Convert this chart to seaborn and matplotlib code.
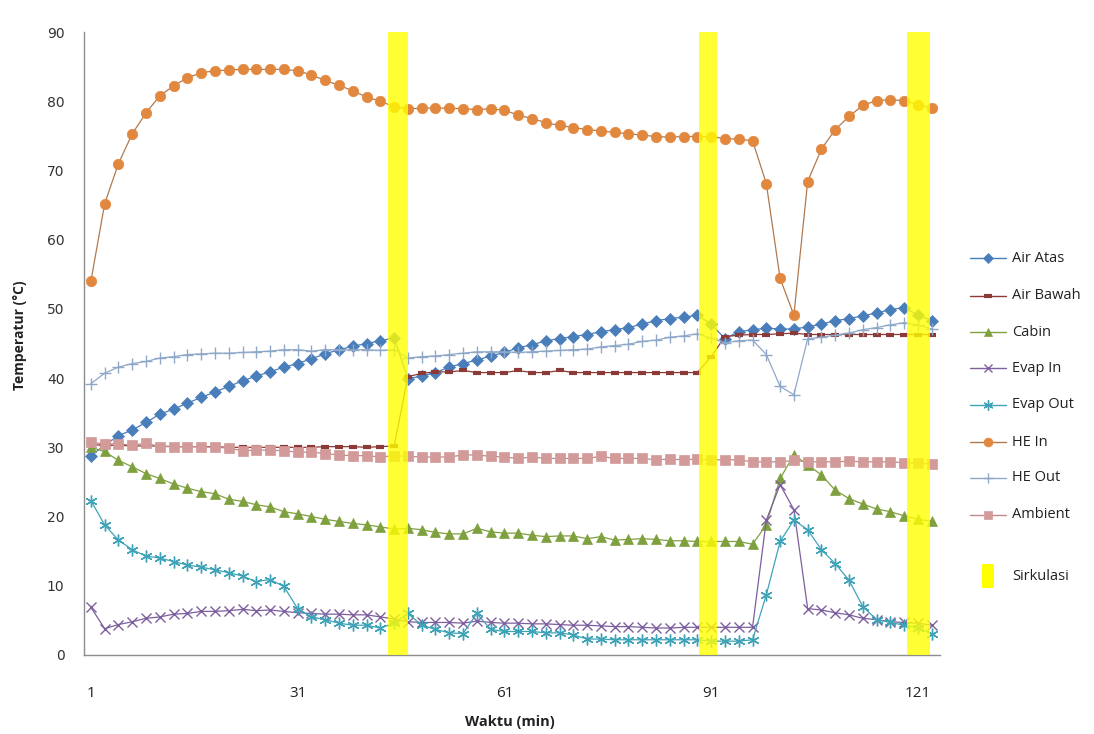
import matplotlib
matplotlib.use("Agg")
import matplotlib.pyplot as plt
import seaborn as sns
from matplotlib.lines import Line2D
from matplotlib.patches import Rectangle

# ---------------- data ----------------
minutes = [1, 3, 5, 7, 9, 11, 13, 15, 17, 19, 21, 23, 25, 27, 29, 31, 33, 35, 37, 39, 41,
           43, 45, 47, 49, 51, 53, 55, 57, 59, 61, 63, 65, 67, 69, 71, 73, 75, 77, 79, 81,
           83, 85, 87, 89, 91, 93, 95, 97, 99, 101, 103, 105, 107, 109, 111, 113, 115,
           117, 119, 121, 123]

air_atas = [28.8, 30.3, 31.7, 32.5, 33.6, 34.8, 35.5, 36.4, 37.2, 38.0, 38.8, 39.6, 40.3,
            40.9, 41.6, 42.1, 42.8, 43.5, 44.1, 44.6, 45.0, 45.4, 45.8,
            39.9, 40.3, 40.8, 41.6, 42.1, 42.6, 43.2, 43.7, 44.4, 44.8, 45.4, 45.7, 46.0,
            46.3, 46.7, 47.0, 47.3, 47.8, 48.3, 48.6, 48.8, 49.1,
            47.8, 45.7, 46.7, 47.0, 47.2, 47.1, 47.1, 47.4, 47.8, 48.3, 48.6, 49.0, 49.4,
            49.9, 50.2, 49.1, 48.3]

air_bawah = [30.4, 30.3, 30.3, 30.2, 30.2, 30.2, 30.1, 30.1, 30.1, 30.1, 30.0, 30.0, 30.0,
             30.0, 30.0, 30.0, 30.0, 30.1, 30.1, 30.1, 30.0, 30.1, 30.2,
             40.2, 40.7, 40.9, 40.9, 41.1, 40.8, 40.8, 40.8, 41.1, 40.8, 40.8, 41.1, 40.8,
             40.8, 40.8, 40.8, 40.8, 40.8, 40.8, 40.8, 40.8, 40.8,
             43.1, 46.0, 46.2, 46.3, 46.3, 46.4, 46.5, 46.3, 46.3, 46.3, 46.3, 46.3, 46.3,
             46.3, 46.3, 46.3, 46.3]

cabin = [30.0, 29.4, 28.1, 27.2, 26.2, 25.5, 24.7, 24.1, 23.6, 23.3, 22.5, 22.2, 21.7,
         21.4, 20.7, 20.4, 20.0, 19.6, 19.3, 19.0, 18.8, 18.5, 18.2,
         18.3, 18.1, 17.7, 17.5, 17.5, 18.3, 17.8, 17.6, 17.6, 17.3, 17.1, 17.2, 17.2,
         16.8, 17.1, 16.6, 16.7, 16.8, 16.7, 16.5, 16.5, 16.4,
         16.4, 16.4, 16.4, 16.0, 18.8, 25.5, 28.9, 27.5, 26.0, 23.8, 22.6, 21.8, 21.1,
         20.7, 20.1, 19.6, 19.3]

evap_in = [6.9, 3.8, 4.4, 4.8, 5.3, 5.5, 5.9, 6.0, 6.3, 6.3, 6.4, 6.6, 6.4, 6.5, 6.3,
           6.1, 6.0, 5.9, 5.9, 5.8, 5.8, 5.5, 5.2,
           4.8, 4.7, 4.7, 4.7, 4.6, 4.9, 4.7, 4.6, 4.6, 4.5, 4.5, 4.4, 4.3, 4.3, 4.2,
           4.1, 4.1, 4.0, 3.9, 3.9, 4.0, 4.0,
           4.0, 4.0, 4.0, 4.0, 19.5, 24.6, 21.0, 6.7, 6.5, 6.1, 5.8, 5.3, 5.1, 4.8, 4.7,
           4.6, 4.3]

evap_out = [22.3, 18.8, 16.6, 15.2, 14.3, 14.0, 13.5, 13.0, 12.7, 12.3, 11.9, 11.4, 10.6,
            10.9, 9.9, 6.7, 5.5, 5.1, 4.6, 4.3, 4.3, 3.9, 4.6,
            6.0, 4.3, 3.7, 3.2, 3.1, 6.0, 3.7, 3.4, 3.4, 3.4, 3.2, 3.2, 2.9, 2.3, 2.3,
            2.2, 2.2, 2.2, 2.2, 2.2, 2.2, 2.2,
            2.0, 2.0, 2.0, 2.2, 8.7, 16.4, 19.5, 18.1, 15.2, 13.2, 10.8, 7.0, 5.1, 4.7,
            4.3, 3.9, 3.1]

he_in = [54.0, 65.2, 71.0, 75.3, 78.3, 80.8, 82.2, 83.4, 84.1, 84.4, 84.5, 84.6, 84.6,
         84.6, 84.6, 84.4, 83.8, 83.0, 82.3, 81.5, 80.6, 80.0, 79.2,
         78.9, 79.0, 79.0, 79.0, 78.9, 78.8, 78.9, 78.7, 78.0, 77.5, 76.9, 76.5, 76.2,
         75.9, 75.7, 75.5, 75.3, 75.1, 74.9, 74.8, 74.9, 74.9,
         74.9, 74.6, 74.5, 74.3, 68.1, 54.4, 49.1, 68.4, 73.1, 75.9, 77.8, 79.4, 80.1,
         80.2, 80.1, 79.5, 79.0]

he_out = [39.2, 40.7, 41.6, 42.1, 42.4, 42.9, 43.1, 43.4, 43.5, 43.6, 43.6, 43.7, 43.8,
          43.9, 44.1, 44.1, 43.9, 44.1, 44.1, 44.1, 44.1, 44.0, 44.1,
          42.9, 43.1, 43.2, 43.4, 43.6, 43.8, 43.8, 43.8, 43.7, 43.8, 43.9, 44.0, 44.1,
          44.2, 44.5, 44.7, 44.9, 45.3, 45.5, 45.9, 46.1, 46.4,
          45.8, 45.1, 45.4, 45.5, 43.4, 38.8, 37.6, 45.7, 45.9, 46.2, 46.5, 47.0, 47.3,
          47.7, 48.0, 47.7, 47.1]

ambient = [30.7, 30.5, 30.5, 30.3, 30.6, 30.1, 30.1, 30.1, 30.1, 30.0, 29.9, 29.5, 29.6,
           29.6, 29.5, 29.3, 29.3, 29.1, 28.9, 28.8, 28.8, 28.6, 28.8,
           28.7, 28.6, 28.6, 28.6, 28.9, 28.9, 28.7, 28.6, 28.4, 28.6, 28.4, 28.4, 28.4,
           28.4, 28.7, 28.4, 28.4, 28.4, 28.2, 28.3, 28.2, 28.3,
           28.2, 28.2, 28.2, 27.9, 27.9, 27.9, 28.1, 27.9, 27.9, 27.9, 28.0, 27.9, 27.9,
           27.9, 27.8, 27.7, 27.6]

series_names = ["Air Atas", "Air Bawah", "Cabin", "Evap In", "Evap Out", "HE In", "HE Out", "Ambient"]
sirkulasi_start = [44.1, 89.2, 119.4]
sirkulasi_end = [47.0, 91.9, 122.7]
sirkulasi_label = "Sirkulasi"
x_ticks = [1, 31, 61, 91, 121]
y_ticks = [0, 10, 20, 30, 40, 50, 60, 70, 80, 90]
x_label = "Waktu (min)"
y_label = "Temperatur (°C)"

# ---------------- style ----------------
sns.set_style("white")
plt.rcParams["font.family"] = ["Open Sans", "DejaVu Sans"]

W, H = 1094, 734
fig = plt.figure(figsize=(W / 100, H / 100), dpi=100)
ax = fig.add_axes([84 / W, 1 - 655 / H, (940 - 84) / W, (655 - 32) / H])

styles = [
    dict(color="#4A7EBB", marker="D", markersize=6.5, mfc="#4A7EBB", mec="#4A7EBB", mew=0.5),
    dict(color="#8B3A38", marker="_", markersize=6, mfc="#8B3A38", mec="#8B3A38", mew=3),
    dict(color="#7FA03E", marker="^", markersize=7, mfc="#7FA03E", mec="#7FA03E", mew=0.5),
    dict(color="#7D5E9E", marker="x", markersize=7, mfc="#7D5E9E", mec="#7D5E9E", mew=1.0),
    dict(color="#3FA3B8", marker=(6, 2, 0), markersize=8.5, mfc="#3FA3B8", mec="#3FA3B8", mew=1.0),
    dict(color="#E2873E", marker="o", markersize=7.5, mfc="#E2873E", mec="#E2873E", mew=0.5),
    dict(color="#8FA8C8", marker="+", markersize=9, mfc="#8FA8C8", mec="#8FA8C8", mew=1.0),
    dict(color="#D29A99", marker="s", markersize=7, mfc="#D29A99", mec="#D29A99", mew=0.5),
]
line_colors = ["#4A7EBB", "#8B3A38", "#7FA03E", "#7D5E9E", "#3FA3B8", "#B07A50", "#8FA8C8", "#C08A89"]

all_series = [air_atas, air_bawah, cabin, evap_in, evap_out, he_in, he_out, ambient]
for i, (name, vals, st) in enumerate(zip(series_names, all_series, styles)):
    sns.lineplot(x=minutes, y=vals, ax=ax, color=line_colors[i], linewidth=0.9,
                 marker=st["marker"], markersize=st["markersize"],
                 markerfacecolor=st["mfc"], markeredgecolor=st["mec"],
                 markeredgewidth=st["mew"], zorder=2 + i, legend=False)

for s, e in zip(sirkulasi_start, sirkulasi_end):
    ax.axvspan(s, e, ymin=0, ymax=1, color="#FFFF00", alpha=0.8, lw=0, zorder=20)

ax.set_xlim(0, 124.2)
ax.set_ylim(0, 90)
ax.set_xticks(x_ticks)
ax.set_yticks(y_ticks)
ax.tick_params(axis="x", length=0, pad=22, labelsize=11, labelcolor="#222222")
ax.tick_params(axis="y", length=0, pad=14, labelsize=10, labelcolor="#333333")
for lab in ax.get_yticklabels():
    lab.set_fontfamily("DejaVu Sans")
for sp in ["top", "right"]:
    ax.spines[sp].set_visible(False)
for sp in ["left", "bottom"]:
    ax.spines[sp].set_color("#8C8C8C")
    ax.spines[sp].set_linewidth(1.0)
ax.grid(False)
ax.set_xlabel("")
ax.set_ylabel("")

fig.text(510 / W, 1 - 722 / H, x_label, ha="center", va="center", fontsize=10.5,
         fontweight="bold", color="#222222")
fig.text(20 / W, 1 - 335 / H, y_label, ha="center", va="center", rotation=90,
         fontsize=10, fontweight="bold", color="#222222")

# ---------------- legend (drawn in figure pixels) ----------------
row_y = [258, 296, 332, 368, 405, 442, 478, 515]
for i, (name, st) in enumerate(zip(series_names, styles)):
    yy = 1 - row_y[i] / H
    fig.add_artist(Line2D([970 / W, 1006 / W], [yy, yy], transform=fig.transFigure,
                          color=line_colors[i], lw=1.0))
    fig.add_artist(Line2D([988 / W], [yy], transform=fig.transFigure, ls="none",
                          marker=st["marker"], markersize=st["markersize"] * 0.85,
                          mfc=st["mfc"], mec=st["mec"], mew=st["mew"]))
    fig.text(1012 / W, yy, name, ha="left", va="center", fontsize=10.5, color="#222222")

fig.add_artist(Rectangle((982 / W, 1 - 588 / H), 12 / W, 24 / H, transform=fig.transFigure,
                         color="#FFFF00", lw=0))
fig.text(1012 / W, 1 - 576 / H, sirkulasi_label, ha="left", va="center", fontsize=10.5,
         color="#222222")

fig.savefig("out.png", dpi=100)
